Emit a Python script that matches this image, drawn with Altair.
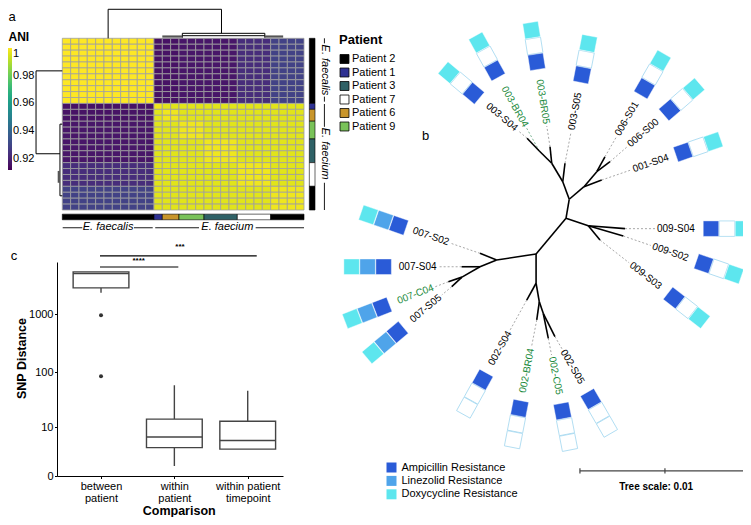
import math
import json
import altair as alt
import pandas as pd

FONT = "Liberation Sans"
W, H = 735, 509

# ======================= Panel a : ANI heatmap =======================
patient_run_names = ["Patient 2", "Patient 1", "Patient 6", "Patient 9", "Patient 3", "Patient 7", "Patient 2"]
patient_run_sizes = [11, 1, 2, 3, 4, 4, 4]
n_faecalis = 11
patient_order = ["Patient 2", "Patient 1", "Patient 3", "Patient 7", "Patient 6", "Patient 9"]
patient_colors = ["#000000", "#2e3192", "#2f6166", "#ffffff", "#c8952b", "#79c259"]
ani_faecalis_within = 1.0
ani_faecium_same_patient = 0.998
ani_faecium_other_patient = 0.996
cross_ani_patients = ["Patient 1", "Patient 6", "Patient 9", "Patient 3", "Patient 7", "Patient 2"]
cross_ani_values = [0.916, 0.916, 0.917, 0.917, 0.923, 0.929]
ani_ticks = [0.92, 0.94, 0.96, 0.98, 1.0]
ani_domain = [0.912, 1.0]

species = ["E. faecalis", "E. faecium"]
bottom_label_centers = [5.5, 19.8]
bottom_label_row = 31.85
bottom_label_rules = [(0.05, 2.4), (8.6, 10.85), (11.15, 16.4), (23.2, 29.0)]
right_label_centers = [5.35, 19.5]
right_label_col = 31.55
right_label_rules = [(0.0, 0.85), (9.85, 10.7), (11.1, 14.95), (24.4, 29.0)]
bottom_bar_rows = (29.7, 30.65)
right_bar_cols = (29.64, 30.32)

# dendrograms, segments in heatmap column/row units
top_dendro = [(5.5, -4.9, 19.1, -4.9), (5.5, -4.9, 5.5, 0.0), (19.1, -4.9, 19.1, -0.84),
              (14.4, -0.84, 24.3, -0.84), (14.4, -0.84, 14.4, -0.1), (24.3, -0.84, 24.3, -0.1),
              (14.4, -0.44, 24.3, -0.44)]
top_dendro_fine = [(12.0, -0.3, 14.4, -0.3), (24.3, -0.3, 26.5, -0.3)]
left_dendro = [(-3.15, 5.5, 0.0, 5.5), (-3.15, 5.5, -3.15, 19.5), (-3.15, 19.5, -0.28, 19.5),
               (-0.28, 14.5, -0.28, 26.6), (-0.28, 14.5, 0.0, 14.5), (-0.28, 26.6, 0.0, 26.6)]
left_dendro_fine = [(-0.42, 22.4, -0.42, 24.4)]

iso_patient = []
for name, n in zip(patient_run_names, patient_run_sizes):
    iso_patient += [name] * n
N = len(iso_patient)
iso_species = [species[0]] * n_faecalis + [species[1]] * (N - n_faecalis)
cross_map = dict(zip(cross_ani_patients, cross_ani_values))

cells = []
for r in range(N):
    for c in range(N):
        sr, sc = iso_species[r], iso_species[c]
        if sr == sc == species[0]:
            v = ani_faecalis_within
        elif sr == sc == species[1]:
            v = ani_faecium_same_patient if iso_patient[r] == iso_patient[c] else ani_faecium_other_patient
        else:
            v = cross_map[iso_patient[r] if sr == species[1] else iso_patient[c]]
        cells.append(dict(c0=c, c1=c + 1, r0=r, r1=r + 1, ani=v))
cells = pd.DataFrame(cells)

bars = []
s = 0
for name, n in zip(patient_run_names, patient_run_sizes):
    bars.append(dict(patient=name, x0=s, x1=s + n, y0=bottom_bar_rows[0], y1=bottom_bar_rows[1]))
    bars.append(dict(patient=name, x0=right_bar_cols[0], x1=right_bar_cols[1], y0=s, y1=s + n))
    s += n
bars = pd.DataFrame(bars)

hx = alt.Scale(domain=[0, N], range=[54.3, 296], nice=False, zero=False)
hy = alt.Scale(domain=[0, N], range=[30.3, 202], nice=False, zero=False)


def seg_df(segs):
    return pd.DataFrame(segs, columns=["x", "y", "x2", "y2"])


def seg_layer(df, xs, ys, xa=None, ya=None, **mk):
    return alt.Chart(df).mark_rule(**mk).encode(
        x=alt.X("x:Q", scale=xs, axis=xa), y=alt.Y("y:Q", scale=ys, axis=ya),
        x2="x2:Q", y2="y2:Q")


heat = alt.Chart(cells).mark_rect(stroke="#a0a0a0", strokeWidth=0.8).encode(
    x=alt.X("c0:Q", scale=hx, axis=None), x2="c1:Q",
    y=alt.Y("r0:Q", scale=hy, axis=None), y2="r1:Q",
    color=alt.Color("ani:Q", scale=alt.Scale(scheme="viridis", domain=ani_domain),
                    legend=alt.Legend(orient="none", legendX=-2, legendY=40, direction="vertical",
                                      title=None, gradientLength=122, gradientThickness=6,
                                      gradientStrokeWidth=0, values=ani_ticks, format="~g",
                                      labelFontSize=11, labelOffset=1, labelBaseline="middle",
                                      labelOverlap=False, labelColor="black")))

pbars = alt.Chart(bars).mark_rect(stroke="black", strokeWidth=0.6).encode(
    x=alt.X("x0:Q", scale=hx, axis=None), x2="x1:Q",
    y=alt.Y("y0:Q", scale=hy, axis=None), y2="y1:Q",
    color=alt.Color("patient:N", scale=alt.Scale(domain=patient_order, range=patient_colors),
                    legend=alt.Legend(orient="none", legendX=331, legendY=25.5, title="Patient",
                                      titleFontSize=13, titleFontWeight="bold", titlePadding=7,
                                      titleColor="black", labelFontSize=11, labelColor="black",
                                      symbolType="square", symbolSize=80, symbolStrokeColor="black",
                                      symbolStrokeWidth=0.8, rowPadding=0.5, labelOffset=2, padding=0)))

dendro = seg_layer(seg_df(top_dendro + left_dendro), hx, hy, color="black", strokeWidth=1)
dendro_fine = seg_layer(seg_df(top_dendro_fine + left_dendro_fine), hx, hy, color="#555555", strokeWidth=2.2)

sp_bottom = pd.DataFrame(dict(label=species, x=bottom_label_centers, y=[bottom_label_row] * 2))
sp_right = pd.DataFrame(dict(label=species, y=right_label_centers, x=[right_label_col] * 2))
sp_text_b = alt.Chart(sp_bottom).mark_text(fontSize=11, fontStyle="italic", baseline="middle").encode(
    x=alt.X("x:Q", scale=hx, axis=None), y=alt.Y("y:Q", scale=hy, axis=None), text="label:N")
sp_text_r = alt.Chart(sp_right).mark_text(fontSize=11, fontStyle="italic", baseline="middle", angle=90).encode(
    x=alt.X("x:Q", scale=hx, axis=None), y=alt.Y("y:Q", scale=hy, axis=None), text="label:N")
sp_rules = seg_df([(a, bottom_label_row + 0.15, b, bottom_label_row + 0.15) for a, b in bottom_label_rules] +
                  [(right_label_col - 0.1, a, right_label_col - 0.1, b) for a, b in right_label_rules])
sp_rule_layer = seg_layer(sp_rules, hx, hy, color="black", strokeWidth=0.9)

a_notes = pd.DataFrame(dict(label=["a", "ANI"], x=[-6.46, -6.46], y=[-3.55, -0.27]))
a_letter = alt.Chart(a_notes.iloc[[0]]).mark_text(fontSize=13, align="left", baseline="middle").encode(
    x=alt.X("x:Q", scale=hx, axis=None), y=alt.Y("y:Q", scale=hy, axis=None), text="label:N")
a_title = alt.Chart(a_notes.iloc[[1]]).mark_text(fontSize=12, fontWeight="bold", align="left", baseline="middle").encode(
    x=alt.X("x:Q", scale=hx, axis=None), y=alt.Y("y:Q", scale=hy, axis=None), text="label:N")

panel_a = alt.layer(heat, pbars, dendro, dendro_fine, sp_rule_layer, sp_text_b, sp_text_r,
                    a_letter, a_title).resolve_scale(color="independent")

# ======================= Panel c : SNP distance boxplots =======================
comp_pos = [0, 1, 2]
comp_lines = [["between", "patient"], ["within", "patient"], ["within patient", "timepoint"]]
box_q1 = [2815, 3.5, 3.2]
box_med = [4965, 6.2, 5.2]
box_q3 = [5290, 14.3, 13.0]
box_lo = [2314, 0.82, 3.2]
box_hi = [5290, 59.0, 47.0]
out_pos = [0, 0]
out_val = [960, 85]
sig_from = [-0.014, -0.014]
sig_to = [1.054, 2.123]
sig_y = [6400, 9900]
sig_text = ["****", "***"]
sig_text_x = [0.514, 1.077]
sig_text_y = [8200, 13900]
box_half = 0.38

cx = alt.Scale(domain=[-0.6, 2.481], range=[49, 275], nice=False, zero=False)
cy = alt.Scale(type="symlog", constant=1.7, domain=[0, 7800], range=[468, 254], nice=False, zero=False)

label_expr = ""
for p, lines in zip(comp_pos[:-1], comp_lines[:-1]):
    label_expr += f"datum.value == {p} ? {json.dumps(lines)} : "
label_expr += json.dumps(comp_lines[-1])

x_axis = alt.Axis(orient="bottom", offset=-41, values=comp_pos, labelExpr=label_expr, labelFlush=False,
                  labelFontSize=11, labelColor="black", labelLineHeight=11.5, labelPadding=2,
                  tickSize=2.5, tickColor="black", domainColor="black", grid=False,
                  title="Comparison", titleFontSize=12.5, titleFontWeight="bold", titleColor="black",
                  titleX=170.7, titleY=34.5, titleBaseline="middle")
y_axis = alt.Axis(orient="left", offset=-49, values=[0, 10, 100, 1000], format="d", labelFlush=False,
                  labelFontSize=11, labelColor="black", labelPadding=1.5, tickSize=2.5,
                  tickColor="black", domainColor="black", grid=False,
                  title="SNP Distance", titleFontSize=12.5, titleFontWeight="bold", titleColor="black",
                  titleX=-35.3, titleY=350, titleAngle=270, titleBaseline="middle")


def cX(field):
    return alt.X(field, scale=cx, axis=x_axis)


def cY(field):
    return alt.Y(field, scale=cy, axis=y_axis)


box_df = pd.DataFrame(dict(pos=comp_pos, q1=box_q1, med=box_med, q3=box_q3, lo=box_lo, hi=box_hi))
box_df["left"] = box_df["pos"] - box_half
box_df["right"] = box_df["pos"] + box_half

whisk = pd.concat([
    pd.DataFrame(dict(x=box_df["pos"], y=box_df["lo"], y2=box_df["q1"])),
    pd.DataFrame(dict(x=box_df["pos"], y=box_df["q3"], y2=box_df["hi"])),
])
whisk_layer = alt.Chart(whisk).mark_rule(color="#444444", strokeWidth=1.4).encode(
    x=cX("x:Q"), y=cY("y:Q"), y2="y2:Q")
box_layer = alt.Chart(box_df).mark_rect(fill="white", stroke="#444444", strokeWidth=1.4).encode(
    x=cX("left:Q"), x2="right:Q", y=cY("q1:Q"), y2="q3:Q")
med_layer = alt.Chart(box_df).mark_rule(color="#444444", strokeWidth=1.6).encode(
    x=cX("left:Q"), x2="right:Q", y=cY("med:Q"))
out_layer = alt.Chart(pd.DataFrame(dict(x=out_pos, y=out_val))).mark_circle(
    size=16, color="#333333", opacity=1).encode(x=cX("x:Q"), y=cY("y:Q"))
sig_df = pd.DataFrame(dict(x=sig_from, x2=sig_to, y=sig_y))
sig_layer = alt.Chart(sig_df).mark_rule(color="black", strokeWidth=1.2).encode(
    x=cX("x:Q"), x2="x2:Q", y=cY("y:Q"))
sig_txt = alt.Chart(pd.DataFrame(dict(x=sig_text_x, y=sig_text_y, t=sig_text))).mark_text(
    fontSize=8, fontWeight="bold", baseline="middle").encode(x=cX("x:Q"), y=cY("y:Q"), text="t:N")
c_letter = alt.Chart(pd.DataFrame(dict(x=[-1.23], y=[9800], t=["c"]))).mark_text(
    fontSize=13, align="left", baseline="middle").encode(x=cX("x:Q"), y=cY("y:Q"), text="t:N")

panel_c = alt.layer(whisk_layer, box_layer, med_layer, out_layer, sig_layer, sig_txt, c_letter)

# ======================= Panel b : unrooted tree =======================
# tree coordinates in units of 0.001 substitutions/site (scale bar 0.01 = 10 units)
node_names = ["A", "B", "D", "G", "P", "E", "F", "C", "H", "I", "M", "N", "J", "K", "L"]
node_x = [0.0, 0.19, -0.19, -0.84, -1.57, 1.06, 1.81, 1.31, -1.76, -4.08, -5.06, -6.12, -1.76, -1.57, -1.34]
node_y = [0.0, -1.12, -2.15, -3.24, -3.96, -1.86, -2.74, 0.44, 2.10, 2.45, 2.85, 3.46, 3.82, 4.91, 5.59]
internal_edges = [("A", "B"), ("B", "D"), ("D", "G"), ("G", "P"), ("B", "E"), ("E", "F"), ("A", "C"),
                  ("A", "H"), ("H", "I"), ("I", "M"), ("M", "N"), ("H", "J"), ("J", "K"), ("K", "L")]
leaf_names = ["003-S04", "003-BR04", "003-BR05", "003-S05", "006-S01", "006-S00", "001-S04", "009-S04",
              "009-S02", "009-S03", "002-S05", "002-C05", "002-BR04", "002-S04", "007-S05", "007-C04",
              "007-S04", "007-S02"]
leaf_x = [-2.29, -1.57, -0.94, -0.06, 2.29, 2.59, 2.10, 3.47, 3.37, 2.00, -0.65, -1.04, -1.72, -2.31,
          -6.72, -6.92, -6.14, -5.06]
leaf_y = [-4.71, -3.96, -4.21, -3.24, -3.62, -3.33, -2.25, 0.61, 1.04, 1.28, 6.96, 7.06, 5.98, 4.81,
          4.02, 3.73, 2.85, 2.06]
leaf_parent = ["P", "P", "G", "D", "F", "F", "E", "C", "C", "C", "L", "L", "K", "J", "N", "N", "M", "I"]
leaf_green = [0, 1, 1, 0, 0, 0, 0, 0, 0, 0, 0, 1, 1, 0, 0, 1, 0, 0]
leaf_angle = [-140, -119, -99, -79, -60, -41, -19, 0, 19, 38, 60, 79, 101, 119, 140, 159, 180, 199]
leaf_label_gap = [14, 28, 23, 34, 25, 25, 33, 32, 31, 39, 16, 19, 29, 36, 15, 16, 25, 33]
leaf_box_gap = [70, 92, 86, 90, 79, 79, 86, 86, 85, 94, 72, 74, 90, 91, 71, 71, 78, 86]
resistance_names = ["Ampicillin Resistance", "Linezolid Resistance", "Doxycycline Resistance"]
resistance_colors = ["#2a5bd7", "#4fa4ea", "#5de6ee"]
ampicillin = [1] * 18
linezolid = [0] * 14 + [1] * 4
doxycycline = [1] * 10 + [0] * 4 + [1] * 4
scale_bar = (0.82, 10.82, 14.86)
scale_label = "Tree scale: 0.01"

PX = 17.0      # pixels per tree unit
BOX_STEP = 16  # pixels between resistance squares
GREEN = "#1b8a3c"

nodes = dict(zip(node_names, zip(node_x, node_y)))
edges = []
for a, b in internal_edges:
    edges.append((nodes[a][0], nodes[a][1], nodes[b][0], nodes[b][1]))
for i, p in enumerate(leaf_parent):
    edges.append((nodes[p][0], nodes[p][1], leaf_x[i], leaf_y[i]))
edges = seg_df(edges)

dash_rows, text_rows, sq_rows = [], [], []
for i, name in enumerate(leaf_names):
    ang = math.radians(leaf_angle[i])
    ux, uy = math.cos(ang), math.sin(ang)
    x0, y0 = leaf_x[i], leaf_y[i]
    g = leaf_label_gap[i]
    dash_rows.append(dict(x=x0, y=y0, x2=x0 + (g - 2) / PX * ux, y2=y0 + (g - 2) / PX * uy,
                          c="#7fb796" if name == "003-BR04" else "#a8a8a8"))
    right = ux > 0
    text_rows.append(dict(x=x0 + g / PX * ux, y=y0 + g / PX * uy, label=name,
                          angle=(leaf_angle[i] if right else leaf_angle[i] + 180) % 360,
                          color=GREEN if leaf_green[i] else "black", side="R" if right else "L"))
    flags = [ampicillin[i], linezolid[i], doxycycline[i]]
    for k, (res, flag) in enumerate(zip(resistance_names, flags)):
        r = leaf_box_gap[i] + BOX_STEP * k
        sq_rows.append(dict(x=x0 + r / PX * ux, y=y0 + r / PX * uy, angle=leaf_angle[i] % 360,
                            resistance=res, present=flag))
dash_df = pd.DataFrame(dash_rows)
text_df = pd.DataFrame(text_rows)
sq_df = pd.DataFrame(sq_rows)

tx = alt.Scale(domain=[0, 10], range=[558, 728], nice=False, zero=False)
ty = alt.Scale(domain=[0, 10], range=[210.3, 380.3], nice=False, zero=False)

tree_edges = seg_layer(edges, tx, ty, color="black", strokeWidth=1.6)
tree_dash = alt.Chart(dash_df).mark_rule(strokeWidth=1, strokeDash=[2, 2]).encode(
    x=alt.X("x:Q", scale=tx, axis=None), y=alt.Y("y:Q", scale=ty, axis=None), x2="x2:Q", y2="y2:Q",
    color=alt.Color("c:N", scale=None))


def leaf_text(side, align):
    return alt.Chart(text_df[text_df.side == side]).mark_text(
        fontSize=10, align=align, baseline="middle").encode(
        x=alt.X("x:Q", scale=tx, axis=None), y=alt.Y("y:Q", scale=ty, axis=None), text="label:N",
        angle=alt.Angle("angle:Q", scale=None), color=alt.Color("color:N", scale=None))


absent = alt.Chart(sq_df[sq_df.present == 0]).mark_square(
    size=240, filled=True, opacity=1, color="white", stroke="#a6d9f0", strokeWidth=0.8).encode(
    x=alt.X("x:Q", scale=tx, axis=None), y=alt.Y("y:Q", scale=ty, axis=None),
    angle=alt.Angle("angle:Q", scale=None))
present = alt.Chart(sq_df[sq_df.present == 1]).mark_square(
    size=240, filled=True, opacity=1, stroke="white", strokeWidth=0.4).encode(
    x=alt.X("x:Q", scale=tx, axis=None), y=alt.Y("y:Q", scale=ty, axis=None),
    angle=alt.Angle("angle:Q", scale=None),
    color=alt.Color("resistance:N", scale=alt.Scale(domain=resistance_names, range=resistance_colors),
                    legend=alt.Legend(orient="none", legendX=378, legendY=454, title=None,
                                      symbolType="square", symbolSize=100, symbolStrokeWidth=0,
                                      labelFontSize=11, labelColor="black", rowPadding=1.4,
                                      labelOffset=4.5, padding=0)))

sb0, sb1, sby = scale_bar
sbar = seg_df([(sb0, sby, sb1, sby), (sb0, sby - 0.15, sb0, sby + 0.15),
               ((sb0 + sb1) / 2, sby - 0.15, (sb0 + sb1) / 2, sby + 0.15), (sb1, sby - 0.15, sb1, sby + 0.15)])
sbar_layer = seg_layer(sbar, tx, ty, color="#444444", strokeWidth=1.2)
b_notes = pd.DataFrame(dict(x=[5.3], y=[sby + 0.95], t=[scale_label]))
sbar_text = alt.Chart(b_notes).mark_text(fontSize=10, fontWeight="bold", baseline="middle").encode(
    x=alt.X("x:Q", scale=tx, axis=None), y=alt.Y("y:Q", scale=ty, axis=None), text="t:N")
b_letter = alt.Chart(pd.DataFrame(dict(x=[-8.47], y=[-4.84], t=["b"]))).mark_text(
    fontSize=13, align="left", baseline="middle").encode(
    x=alt.X("x:Q", scale=tx, axis=None), y=alt.Y("y:Q", scale=ty, axis=None), text="t:N")

panel_b = alt.layer(tree_dash, tree_edges, leaf_text("R", "left"), leaf_text("L", "right"),
                    absent, present, sbar_layer, sbar_text, b_letter)

chart = alt.layer(panel_a, panel_c, panel_b).resolve_scale(
    x="independent", y="independent", color="independent"
).properties(
    width=W, height=H, autosize=alt.AutoSizeParams(type="none"), padding=0
).configure(font=FONT).configure_view(stroke=None)

chart.save("out.html", embed_options={"renderer": "svg", "actions": False})
